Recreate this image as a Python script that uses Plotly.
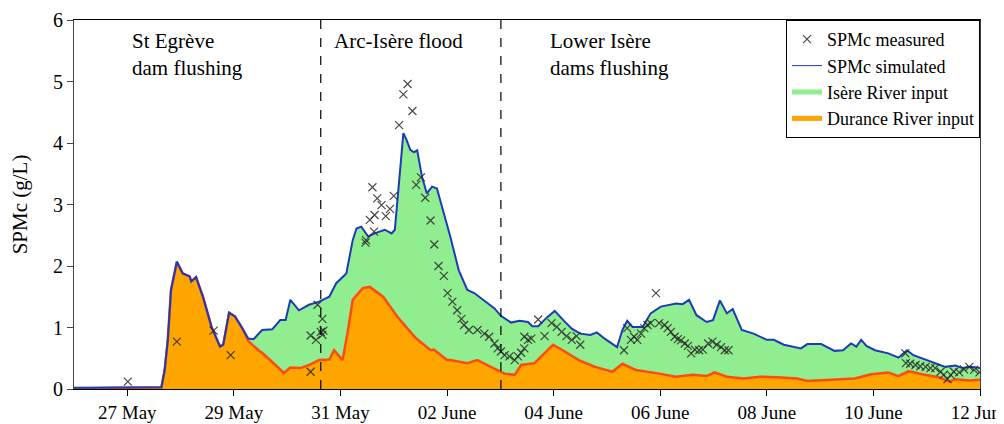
import pandas as pd
import plotly.graph_objects as go

# ---------------- data (days since 26 May 00:00, SPMc in g/L) ----------------
base_date = "2008-05-26"

sim_days = [0.0, 0.5, 0.9, 1.0, 1.3, 1.5, 1.64, 1.70, 1.76, 1.82, 1.93, 2.04, 2.17, 2.20,
            2.29, 2.42, 2.58, 2.74, 2.80, 2.91, 3.02, 3.15, 3.27, 3.37, 3.53, 3.72, 3.87,
            3.97, 4.06, 4.22, 4.41, 4.60, 4.79, 4.92, 5.11, 5.23, 5.30, 5.39, 5.52, 5.64,
            5.83, 5.96, 6.02, 6.18, 6.24, 6.31, 6.38, 6.44, 6.53, 6.62, 6.72, 6.81, 6.94,
            7.06, 7.22, 7.38, 7.51, 7.70, 7.89, 8.01, 8.20, 8.36, 8.52, 8.60, 8.71, 8.87,
            9.02, 9.18, 9.34, 9.50, 9.69, 9.81, 9.97, 10.19, 10.29, 10.38, 10.48, 10.67,
            10.82, 11.01, 11.30, 11.42, 11.54, 11.68, 11.87, 11.99, 12.12, 12.25, 12.36,
            12.53, 12.75, 13.00, 13.13, 13.32, 13.50, 13.64, 13.76, 14.02, 14.27, 14.43,
            14.58, 14.68, 14.77, 14.87, 15.03, 15.28, 15.47, 15.63, 15.75, 15.91, 16.16,
            16.35, 16.54, 16.67, 16.83, 17.02]
sim_total = [0.02, 0.02, 0.03, 0.03, 0.02, 0.03, 0.03, 0.30, 0.80, 1.61, 2.07, 1.88, 1.83, 1.75,
             1.82, 1.50, 1.01, 0.69, 0.72, 1.24, 1.18, 1.00, 0.82, 0.81, 0.96, 0.97, 1.12,
             1.12, 1.45, 1.28, 1.37, 1.42, 1.50, 1.72, 1.88, 2.42, 2.61, 2.64, 2.48, 2.53,
             2.59, 2.53, 2.59, 4.16, 4.05, 3.89, 3.85, 3.88, 3.45, 3.18, 3.29, 3.26, 2.86,
             2.48, 1.93, 1.61, 1.56, 1.44, 1.31, 1.19, 1.08, 1.11, 1.09, 1.02, 1.02, 1.16,
             1.27, 1.12, 0.98, 0.90, 0.88, 0.92, 0.81, 0.68, 0.96, 1.11, 1.01, 1.01,
             1.23, 1.34, 1.39, 1.38, 1.45, 1.20, 1.09, 1.12, 1.44, 1.23, 1.30,
             0.96, 0.90, 0.80, 0.80, 0.72, 0.69, 0.66, 0.73, 0.73, 0.62, 0.63,
             0.74, 0.69, 0.80, 0.70, 0.63, 0.58, 0.51, 0.63, 0.55, 0.50, 0.42,
             0.36, 0.38, 0.34, 0.36, 0.34]

dur_days = [0.0, 1.5, 1.64, 1.70, 1.76, 1.82, 1.93, 2.04, 2.17, 2.20, 2.29, 2.42, 2.58, 2.74,
            2.80, 2.91, 3.02, 3.15, 3.27, 3.46, 3.53, 3.78, 3.94, 4.06, 4.25, 4.41, 4.60,
            4.79, 4.88, 5.04, 5.13, 5.23, 5.42, 5.55, 5.80, 6.08, 6.40, 6.69, 6.75, 7.00,
            7.06, 7.38, 7.57, 7.82, 8.08, 8.27, 8.39, 8.64, 8.83, 8.99, 9.21, 9.47, 9.78,
            10.10, 10.29, 10.54, 10.98, 11.30, 11.61, 11.87, 12.02, 12.25, 12.56, 12.88,
            13.19, 13.57, 13.76, 14.27, 14.65, 14.96, 15.28, 15.47, 15.66, 15.91, 16.23,
            16.42, 16.54, 16.80, 17.02]
dur_val = [0.01, 0.02, 0.03, 0.30, 0.80, 1.61, 2.07, 1.88, 1.83, 1.75, 1.82, 1.50, 1.01, 0.69,
           0.72, 1.24, 1.18, 1.00, 0.78, 0.63, 0.59, 0.39, 0.26, 0.35, 0.34, 0.39, 0.47,
           0.48, 0.63, 0.47, 0.90, 1.45, 1.64, 1.66, 1.50, 1.16, 0.84, 0.63, 0.64, 0.47,
           0.47, 0.42, 0.47, 0.36, 0.25, 0.23, 0.39, 0.42, 0.58, 0.72, 0.61, 0.47, 0.36,
           0.28, 0.41, 0.31, 0.25, 0.20, 0.23, 0.21, 0.27, 0.20, 0.17, 0.20,
           0.19, 0.17, 0.13, 0.15, 0.17, 0.24, 0.27, 0.21, 0.29, 0.24, 0.19,
           0.12, 0.16, 0.14, 0.15]

meas_days = [1.01, 1.93, 2.62, 2.94, 4.44, 4.44, 4.54, 4.57, 4.63, 4.66, 4.66, 4.68,
             5.47, 5.48, 5.55, 5.60, 5.63, 5.64, 5.69, 5.77, 5.85, 5.93, 6.00, 6.10, 6.18,
             6.26, 6.35, 6.42, 6.51, 6.59, 6.69, 6.76, 6.84, 6.94, 7.01, 7.10, 7.19, 7.27,
             7.32, 7.41, 7.57, 7.70, 7.79, 7.89, 7.95, 8.01, 8.08, 8.17, 8.27, 8.33, 8.39,
             8.45, 8.45, 8.52, 8.58, 8.71, 8.83, 8.96, 9.06, 9.15, 9.24, 9.34, 9.43, 9.50,
             10.32, 10.38, 10.45, 10.51, 10.57, 10.64, 10.70, 10.76, 10.82, 10.92, 10.98,
             11.08, 11.14, 11.20, 11.27, 11.33, 11.39, 11.46, 11.52, 11.58, 11.65, 11.73,
             11.80, 11.90, 11.98, 12.06, 12.14, 12.21, 12.28,
             15.60, 15.61, 15.69, 15.79, 15.88, 15.98, 16.07, 16.16, 16.26, 16.32, 16.39,
             16.45, 16.51, 16.61, 16.70, 16.80, 16.89, 16.99]
meas_val = [0.12, 0.77, 0.95, 0.55, 0.28, 0.87, 0.80, 1.37, 0.93, 1.14, 0.88, 0.95,
            2.38, 2.42, 2.75, 3.28, 2.56, 2.83, 3.10, 2.99, 2.81, 2.93, 3.14, 4.29, 4.79,
            4.96, 4.52, 3.32, 3.44, 3.11, 2.74, 2.35, 2.00, 1.84, 1.56, 1.42, 1.28, 1.14,
            1.04, 0.96, 0.96, 0.90, 0.85, 0.74, 0.66, 0.61, 0.55, 0.53, 0.47, 0.53, 0.59,
            0.66, 0.85, 0.80, 0.82, 1.13, 0.86, 1.07, 1.01, 0.93, 0.86, 0.80, 0.86, 0.72,
            0.63, 0.99, 0.80, 0.85, 0.80, 0.90, 0.99, 1.04, 1.07, 1.56, 1.07,
            1.04, 0.99, 0.93, 0.85, 0.81, 0.79, 0.74, 0.70, 0.58, 0.64, 0.63,
            0.64, 0.74, 0.77, 0.72, 0.68, 0.63, 0.63,
            0.58, 0.42, 0.41, 0.39, 0.37, 0.36, 0.34, 0.34, 0.28, 0.23, 0.16,
            0.23, 0.28, 0.27, 0.32, 0.36, 0.31, 0.27]

event_bounds = [4.63, 8.01]
event_labels = ["St Egrève<br>dam flushing", "Arc-Isère flood", "Lower Isère<br>dams flushing"]
event_label_days = [1.06, 4.85, 8.89]

# ---------------- helpers ----------------
t0 = pd.Timestamp(base_date)
def to_dt(days):
    return [t0 + pd.to_timedelta(d, unit="D") for d in days]

FONT = "Liberation Serif"
GREEN = "#90EE90"
ORANGE = "#FFA500"
ORANGE_LINE = "#FF4A10"
BLUE = "#1B3CB8"

fig = go.Figure()

fig.add_trace(go.Scatter(x=to_dt(sim_days), y=sim_total, mode="lines", fill="tozeroy",
                         fillcolor=GREEN, line=dict(width=0, color=GREEN),
                         showlegend=False, hoverinfo="skip"))
fig.add_trace(go.Scatter(x=to_dt(dur_days), y=dur_val, mode="lines", fill="tozeroy",
                         fillcolor=ORANGE, line=dict(width=2.5, color=ORANGE_LINE),
                         showlegend=False))
fig.add_trace(go.Scatter(x=to_dt(sim_days), y=sim_total, mode="lines",
                         line=dict(width=2, color=BLUE), showlegend=False))
fig.add_trace(go.Scatter(x=to_dt(meas_days), y=meas_val, mode="markers", name="SPMc measured",
                         marker=dict(symbol="x-thin", size=8,
                                     line=dict(width=1.2, color="rgba(40,40,40,0.85)")),
                         legendrank=1))
fig.add_trace(go.Scatter(x=[None], y=[None], mode="lines", name="SPMc simulated",
                         line=dict(width=1, color="#2233DD"), legendrank=2))
fig.add_trace(go.Scatter(x=[None], y=[None], mode="lines", name="Isère River input",
                         line=dict(width=5, color=GREEN), legendrank=3))
fig.add_trace(go.Scatter(x=[None], y=[None], mode="lines", name="Durance River input",
                         line=dict(width=5, color=ORANGE), legendrank=4))

for b in event_bounds:
    fig.add_vline(x=t0 + pd.to_timedelta(b, unit="D"),
                  line=dict(color="black", width=1.2, dash="dash"))

for lab, d in zip(event_labels, event_label_days):
    fig.add_annotation(x=t0 + pd.to_timedelta(d, unit="D"), y=5.88, xref="x", yref="y",
                       text=lab, showarrow=False, xanchor="left", yanchor="top",
                       align="left", font=dict(family=FONT, size=21, color="black"))

# the page body adds an 8px offset, so the figure is sized to the visible area
fig.update_layout(
    width=996, height=416,
    margin=dict(l=66, r=24, t=12, b=35, autoexpand=False),
    paper_bgcolor="white", plot_bgcolor="white",
    font=dict(family=FONT, size=20, color="black"),
    legend=dict(x=1, y=1, xanchor="right", yanchor="top", bgcolor="white",
                bordercolor="black", borderwidth=1, font=dict(family=FONT, size=18),
                tracegroupgap=0, itemwidth=30),
)
fig.update_xaxes(
    range=[t0, t0 + pd.to_timedelta(17, unit="D")], automargin=False,
    tick0=t0 + pd.to_timedelta(1, unit="D"), dtick=2 * 86400000,
    tickformat="%d %B", ticks="outside", ticklen=6, tickcolor="black",
    ticklabeloverflow="allow",
    showgrid=False, zeroline=False, showline=True, linecolor="black", mirror=True,
    tickfont=dict(family=FONT, size=19),
)
fig.update_yaxes(
    range=[0, 6], dtick=1, ticks="outside", ticklen=6, tickcolor="#444", automargin=False,
    showgrid=False, zeroline=False, showline=True, linecolor="#444", linewidth=1.2, mirror=True,
    title=dict(text="SPMc (g/L)", font=dict(family=FONT, size=21), standoff=20),
    tickfont=dict(family=FONT, size=20),
)

fig.write_html("out.html")
